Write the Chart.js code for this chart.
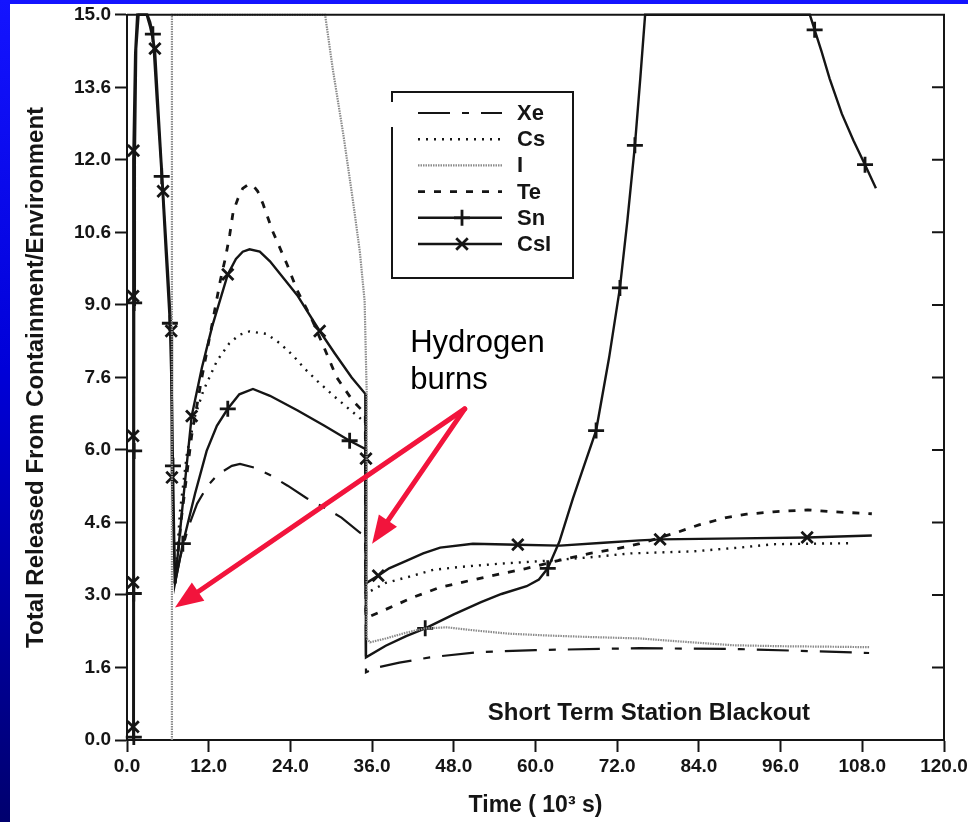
<!DOCTYPE html>
<html>
<head>
<meta charset="utf-8">
<script src="https://cdn.jsdelivr.net/npm/chart.js@4.4.0/dist/chart.umd.min.js"></script>
<style>
  html, body { margin: 0; padding: 0; }
  body {
    width: 968px; height: 822px; overflow: hidden; position: relative;
    background: linear-gradient(to bottom, #1414ff 0%, #0000d8 45%, #00006e 100%);
  }
  #wrap { position: absolute; left: 10px; top: 4px; width: 958px; height: 818px; background: #fff; }
</style>
</head>
<body>
<div id="wrap"><canvas id="chart" width="958" height="818"></canvas></div>
<script>
// axis labels (the y labels are printed rounded oddly in the original)
const yTickLabels = ['0.0', '1.6', '3.0', '4.6', '6.0', '7.6', '9.0', '10.6', '12.0', '13.6', '15.0'];
const seriesNames = ['Xe', 'Cs', 'I', 'Te', 'Sn', 'CsI'];

// time in 10^3 s
const xeTime = [7.05, 7.8, 9.0, 10.3, 11.8, 13.4, 15.4, 16.6, 18.8, 21.0, 23.6, 26.4, 29.1, 31.5, 34.2, 35.0, 35.1, 36.4, 40.0, 44.5, 51.8, 60.0, 75.3, 90.0, 100.0, 109.0];
const xeValue = [3.24, 3.77, 4.4, 4.89, 5.25, 5.5, 5.67, 5.71, 5.63, 5.48, 5.26, 5.0, 4.8, 4.6, 4.29, 4.23, 1.4, 1.49, 1.6, 1.71, 1.82, 1.86, 1.9, 1.88, 1.84, 1.8];

const csTime = [7.05, 7.8, 8.8, 10.0, 11.2, 13.2, 15.0, 16.5, 18.0, 20.5, 22.5, 24.4, 26.1, 28.0, 30.5, 32.5, 34.2, 35.0, 35.1, 38.0, 41.5, 45.0, 49.0, 55.0, 62.0, 68.0, 74.0, 83.0, 90.0, 95.0, 106.0];
const csValue = [3.24, 4.75, 5.92, 6.7, 7.22, 7.84, 8.2, 8.38, 8.45, 8.4, 8.2, 7.95, 7.68, 7.42, 7.1, 6.86, 6.66, 6.55, 3.03, 3.25, 3.38, 3.52, 3.58, 3.65, 3.71, 3.78, 3.86, 3.9, 3.98, 4.05, 4.07];

const iTime = [6.6, 6.6, 29.1, 30.2, 31.8, 33.2, 34.2, 34.9, 35.2, 35.2, 35.7, 38.0, 41.0, 43.8, 47.0, 50.8, 56.0, 62.0, 68.0, 75.3, 82.0, 89.0, 96.0, 103.0, 109.0];
const iValue = [0, 15, 15, 13.9, 12.5, 11.14, 10.1, 9.08, 7.2, 2.1, 2.02, 2.1, 2.22, 2.31, 2.33, 2.27, 2.2, 2.16, 2.13, 2.1, 2.03, 1.96, 1.94, 1.93, 1.92];

const teTime = [7.05, 8.0, 9.5, 11.0, 12.5, 13.7, 14.5, 15.1, 15.6, 16.3, 17.0, 17.7, 18.4, 19.2, 20.0, 21.4, 23.5, 25.0, 27.0, 29.0, 30.8, 33.2, 35.0, 35.1, 38.0, 42.0, 46.0, 52.0, 58.7, 63.0, 68.0, 72.0, 75.3, 80.7, 84.0, 88.0, 91.0, 94.9, 100.0, 103.7, 109.4];
const teValue = [3.24, 4.6, 6.3, 7.5, 8.6, 9.5, 10.0, 10.46, 10.93, 11.2, 11.41, 11.48, 11.49, 11.35, 11.08, 10.52, 9.84, 9.3, 8.75, 8.1, 7.5, 7.01, 6.75, 2.52, 2.7, 2.95, 3.16, 3.35, 3.55, 3.7, 3.86, 3.96, 4.06, 4.29, 4.45, 4.6, 4.67, 4.72, 4.76, 4.72, 4.68];

const snTime = [1.0, 1.05, 1.15, 1.35, 1.7, 3.0, 3.4, 3.8, 4.4, 5.1, 5.7, 6.3, 6.6, 6.75, 6.9, 7.05, 8.2, 10.0, 11.7, 13.2, 14.8, 16.5, 18.5, 21.0, 25.0, 29.0, 32.7, 35.0, 35.1, 38.0, 41.0, 43.8, 48.0, 52.0, 55.0, 58.7, 60.5, 61.8, 63.5, 65.5, 67.2, 68.9, 70.8, 72.4, 73.5, 74.6, 75.4, 76.1, 100.3, 101.0, 102.0, 103.2, 105.0, 106.7, 108.4, 110.0];
const snValue = [0, 9.0, 12.0, 14.3, 15, 15, 14.85, 14.6, 13.2, 11.66, 10.1, 8.62, 7.0, 5.67, 4.4, 3.24, 4.06, 5.1, 5.98, 6.5, 6.85, 7.15, 7.26, 7.12, 6.82, 6.5, 6.19, 6.02, 1.71, 1.95, 2.15, 2.31, 2.6, 2.85, 3.02, 3.18, 3.32, 3.55, 4.1, 5.0, 5.7, 6.4, 7.9, 9.35, 10.75, 12.3, 13.7, 15, 15, 14.69, 14.25, 13.68, 12.95, 12.4, 11.9, 11.41];

const csiTime = [0.9, 0.9, 0.95, 1.2, 1.5, 2.9, 3.4, 4.1, 4.7, 5.3, 6.0, 6.5, 6.6, 6.6, 6.85, 7.05, 8.2, 9.5, 11.0, 12.5, 14.8, 16.0, 17.0, 18.0, 19.5, 21.0, 23.0, 25.0, 28.3, 30.5, 33.0, 35.0, 35.1, 36.9, 38.5, 41.1, 43.5, 46.0, 50.8, 57.4, 63.6, 70.0, 75.3, 78.3, 90.0, 99.9, 109.4];
const csiValue = [0, 9.0, 12.0, 14.2, 15, 15, 14.75, 14.3, 12.8, 11.35, 9.7, 8.46, 7.0, 5.43, 4.3, 3.24, 4.9, 6.7, 7.7, 8.55, 9.63, 9.95, 10.1, 10.15, 10.1, 9.9, 9.55, 9.2, 8.46, 8.0, 7.5, 7.16, 3.24, 3.4, 3.55, 3.71, 3.86, 3.98, 4.06, 4.04, 4.02, 4.08, 4.13, 4.15, 4.17, 4.19, 4.23];

// symbol positions on the Sn and CsI curves
const snMarkTime = [1.0, 1.0, 1.05, 1.05, 3.8, 5.1, 6.3, 6.75, 8.2, 14.8, 32.7, 43.8, 61.8, 68.9, 72.4, 74.6, 101.0, 108.4];
const snMarkValue = [0.06, 3.03, 5.98, 9.04, 14.6, 11.66, 8.62, 5.67, 4.06, 6.85, 6.19, 2.31, 3.55, 6.4, 9.35, 12.3, 14.69, 11.9];
const csiMarkTime = [0.9, 0.9, 0.9, 0.9, 0.95, 4.1, 5.3, 6.5, 6.6, 9.5, 14.8, 28.3, 35.1, 36.9, 57.4, 78.3, 99.9];
const csiMarkValue = [0.27, 3.26, 6.29, 9.18, 12.19, 14.3, 11.35, 8.46, 5.43, 6.7, 9.63, 8.46, 5.82, 3.4, 4.04, 4.15, 4.19];

const FONT = "'Liberation Sans', Arial, Helvetica, sans-serif";
const INK = '#151515';

const styles = {
  Xe: { color: INK, width: 2.2, dash: [32, 12, 7, 12] },
  Cs: { color: INK, width: 2.4, dash: [2, 6] },
  I: { color: '#8a8a8a', width: 2.2, dash: [1.5, 1] },
  Te: { color: INK, width: 2.8, dash: [7, 9] },
  Sn: { color: INK, width: 2.4, dash: [], mark: 'cross' },
  CsI: { color: INK, width: 2.4, dash: [], mark: 'crossRot' }
};

const pts = (t, v) => t.map((x, i) => ({ x, y: v[i] }));

function lineSet(name, t, v) {
  const st = styles[name];
  return {
    label: name, data: pts(t, v), showLine: true, fill: false, tension: 0,
    borderColor: st.color, borderWidth: st.width, borderDash: st.dash,
    pointRadius: 0, clip: false
  };
}

function markSet(name, t, v) {
  return {
    label: name + ' marks', data: pts(t, v), showLine: false, clip: false,
    pointStyle: styles[name].mark, pointRadius: 8,
    pointBorderColor: INK, pointBackgroundColor: 'rgba(0,0,0,0)', pointBorderWidth: 2.8
  };
}

function drawMark(ctx, kind, x, y, r) {
  ctx.beginPath();
  if (kind === 'cross') {
    ctx.moveTo(x - r, y); ctx.lineTo(x + r, y);
    ctx.moveTo(x, y - r); ctx.lineTo(x, y + r);
  } else {
    const d = r * 0.72;
    ctx.moveTo(x - d, y - d); ctx.lineTo(x + d, y + d);
    ctx.moveTo(x + d, y - d); ctx.lineTo(x - d, y + d);
  }
  ctx.stroke();
}

// top and right border, inward ticks on the right
const framePlugin = {
  id: 'frame',
  afterDraw(chart) {
    const { ctx, chartArea: a, scales: { y } } = chart;
    ctx.save();
    ctx.strokeStyle = INK;
    ctx.lineWidth = 2;
    ctx.beginPath();
    ctx.moveTo(a.left, a.top);
    ctx.lineTo(a.right, a.top);
    ctx.lineTo(a.right, a.bottom);
    y.ticks.forEach(t => {
      const py = y.getPixelForValue(t.value);
      ctx.moveTo(a.right - 12, py);
      ctx.lineTo(a.right, py);
    });
    ctx.stroke();
    ctx.restore();
  }
};

// boxed legend inside the plot
const legendPlugin = {
  id: 'legendBox',
  afterDraw(chart) {
    const ctx = chart.ctx;
    const L = 382, T = 88, R = 563, B = 274;
    ctx.save();
    ctx.strokeStyle = INK;
    ctx.lineWidth = 2;
    ctx.beginPath();
    ctx.moveTo(L, 98); ctx.lineTo(L, T); ctx.lineTo(R, T); ctx.lineTo(R, B); ctx.lineTo(L, B); ctx.lineTo(L, 123);
    ctx.stroke();
    seriesNames.forEach((name, i) => {
      const st = styles[name];
      const y = 109 + i * 26.2;
      ctx.strokeStyle = st.color;
      ctx.lineWidth = st.width;
      ctx.setLineDash(st.dash);
      ctx.beginPath(); ctx.moveTo(408, y); ctx.lineTo(492, y); ctx.stroke();
      ctx.setLineDash([]);
      if (st.mark) { ctx.strokeStyle = INK; ctx.lineWidth = 2.8; drawMark(ctx, st.mark, 452, y, 8); }
      ctx.fillStyle = INK;
      ctx.font = 'bold 22px ' + FONT;
      ctx.textBaseline = 'middle';
      ctx.fillText(name, 507, y + 1);
    });
    ctx.restore();
  }
};

function arrow(ctx, x0, y0, x1, y1) {
  const ang = Math.atan2(y1 - y0, x1 - x0);
  const len = 28, half = 11;
  const bx = x1 - len * Math.cos(ang), by = y1 - len * Math.sin(ang);
  ctx.beginPath(); ctx.moveTo(x0, y0); ctx.lineTo(bx, by); ctx.stroke();
  ctx.beginPath();
  ctx.moveTo(x1, y1);
  ctx.lineTo(bx + half * Math.sin(ang), by - half * Math.cos(ang));
  ctx.lineTo(bx - half * Math.sin(ang), by + half * Math.cos(ang));
  ctx.closePath(); ctx.fill();
}

// text notes and the red arrows
const notesPlugin = {
  id: 'notes',
  afterDraw(chart) {
    const { ctx, scales: { x, y } } = chart;
    const px = v => x.getPixelForValue(v), py = v => y.getPixelForValue(v);
    ctx.save();
    ctx.fillStyle = INK;
    ctx.textBaseline = 'middle';
    ctx.font = 'bold 24px ' + FONT;
    ctx.fillText('Short Term Station Blackout', px(53.0), py(0.56));
    ctx.textBaseline = 'alphabetic';
    ctx.fillStyle = '#000';
    ctx.font = '31px ' + FONT;
    ctx.fillText('Hydrogen', px(41.6), py(8.03));
    ctx.fillText('burns', px(41.6), py(7.26));
    ctx.strokeStyle = '#f2143c';
    ctx.fillStyle = '#f2143c';
    ctx.lineWidth = 5;
    ctx.lineCap = 'round';
    arrow(ctx, px(49.6), py(6.85), px(7.05), py(2.74));
    arrow(ctx, px(49.6), py(6.85), px(36.0), py(4.06));
    ctx.restore();
  }
};

const datasets = [
  lineSet('I', iTime, iValue),
  lineSet('Xe', xeTime, xeValue),
  lineSet('Cs', csTime, csValue),
  lineSet('Te', teTime, teValue),
  lineSet('Sn', snTime, snValue),
  lineSet('CsI', csiTime, csiValue),
  markSet('Sn', snMarkTime, snMarkValue),
  markSet('CsI', csiMarkTime, csiMarkValue)
];

new Chart(document.getElementById('chart'), {
  type: 'scatter',
  data: { datasets },
  options: {
    responsive: false,
    animation: false,
    devicePixelRatio: 1,
    events: [],
    layout: { padding: { top: 9, right: 24, bottom: 0, left: 0 } },
    plugins: { legend: { display: false }, tooltip: { enabled: false } },
    scales: {
      x: {
        type: 'linear', min: 0, max: 120,
        ticks: {
          stepSize: 12, autoSkip: false, maxRotation: 0, padding: 3, color: INK,
          font: { family: FONT, size: 19, weight: 'bold' },
          callback: v => v.toFixed(1)
        },
        grid: { drawOnChartArea: false, drawTicks: true, tickLength: 12, tickWidth: 2, tickColor: INK },
        border: { display: true, color: INK, width: 2 },
        title: {
          display: true, text: 'Time ( 10³ s)', color: INK,
          font: { family: FONT, size: 23, weight: 'bold' }, padding: { top: 0, bottom: 3 }
        },
        afterFit: s => { s.height = 82; s.paddingLeft = 0; s.paddingRight = 0; }
      },
      y: {
        type: 'linear', min: 0, max: 15,
        ticks: {
          stepSize: 1.5, autoSkip: false, padding: 4, color: INK,
          font: { family: FONT, size: 19, weight: 'bold' },
          callback: (v, i) => yTickLabels[i]
        },
        grid: { drawOnChartArea: false, drawTicks: true, tickLength: 12, tickWidth: 2, tickColor: INK },
        border: { display: true, color: INK, width: 2 },
        title: {
          display: true, text: 'Total Released From Containment/Environment', color: INK,
          font: { family: FONT, size: 24, weight: 'bold' }, padding: { top: 12, bottom: 0 }
        },
        afterFit: s => { s.width = 117; s.paddingTop = 0; s.paddingBottom = 0; }
      }
    }
  },
  plugins: [framePlugin, legendPlugin, notesPlugin]
});
</script>
</body>
</html>
